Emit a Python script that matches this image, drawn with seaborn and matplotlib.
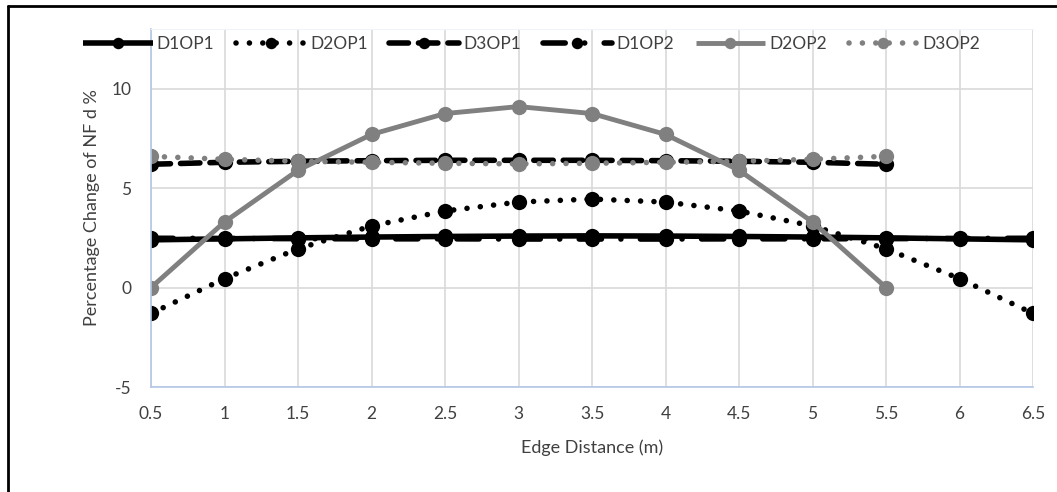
import numpy as np
import pandas as pd
import matplotlib.pyplot as plt
import seaborn as sns
from matplotlib.lines import Line2D

x_long = [0.5, 1, 1.5, 2, 2.5, 3, 3.5, 4, 4.5, 5, 5.5, 6, 6.5]
x_short = [0.5, 1, 1.5, 2, 2.5, 3, 3.5, 4, 4.5, 5, 5.5]
x_labels = ['0.5', '1', '1.5', '2', '2.5', '3', '3.5', '4', '4.5', '5', '5.5', '6', '6.5']

d1op1 = [2.40, 2.45, 2.50, 2.54, 2.57, 2.59, 2.60, 2.59, 2.57, 2.54, 2.50, 2.45, 2.40]
d2op1 = [-1.3, 0.45, 1.95, 3.1, 3.85, 4.3, 4.45, 4.3, 3.85, 3.1, 1.95, 0.45, -1.3]
d3op1 = [6.2, 6.3, 6.35, 6.38, 6.4, 6.4, 6.4, 6.38, 6.35, 6.3, 6.2]
d1op2 = [2.48, 2.47, 2.46, 2.45, 2.45, 2.44, 2.44, 2.44, 2.45, 2.45, 2.46, 2.47, 2.48]
d2op2 = [0.0, 3.3, 5.9, 7.7, 8.75, 9.1, 8.75, 7.7, 5.9, 3.3, 0.0]
d3op2 = [6.6, 6.45, 6.35, 6.3, 6.25, 6.22, 6.25, 6.3, 6.35, 6.45, 6.6]

series = [
    ('D1OP1', x_long, d1op1, 'black', '-', 4),
    ('D2OP1', x_long, d2op1, 'black', (0, (0.01, 2.4)), 4),
    ('D3OP1', x_short, d3op1, 'black', (0, (3.5, 1.8)), 4),
    ('D1OP2', x_long, d1op2, 'black', (0, (4, 3.5, 0.01, 3.5)), 4),
    ('D2OP2', x_short, d2op2, '#808080', '-', 3.5),
    ('D3OP2', x_short, d3op2, '#808080', (0, (0.01, 2.4)), 4),
]

sns.set_style('white')
plt.rcParams['font.family'] = ['Lato', 'DejaVu Sans']
plt.rcParams['axes.unicode_minus'] = False

fig = plt.figure(figsize=(10.57, 4.92), dpi=100)
ax = fig.add_axes([0.1429, 0.2134, 0.9773 - 0.1429, 0.941 - 0.2134])

for name, xs, ys, col, ls, lw in series:
    df = pd.DataFrame({'x': xs, 'y': ys})
    sns.lineplot(data=df, x='x', y='y', ax=ax, color=col, linestyle=ls,
                 linewidth=lw, marker='o', markersize=11, markeredgewidth=0,
                 label=name, dash_capstyle='round', solid_capstyle='butt')

ax.set_xlim(0.5, 6.5)
ax.set_ylim(-5, 13)
ax.set_xticks(x_long)
ax.set_xticklabels(x_labels)
ax.set_yticks([-5, 0, 5, 10])
ax.grid(True, color='#d9d9d9', linewidth=1.2)
ax.set_axisbelow(True)
ax.spines['right'].set_visible(False)
ax.spines['top'].set_color('#f0f3f8')
for s in ['left', 'bottom']:
    ax.spines[s].set_color('#b4c7e7')
    ax.spines[s].set_linewidth(1.2)
ax.tick_params(axis='both', length=0, labelsize=12.5, colors='#404040', pad=14)
ax.set_xlabel('Edge Distance (m)', fontsize=13, color='#404040', labelpad=12)
ax.set_ylabel('Percentage Change of NF d %', fontsize=13, color='#404040', labelpad=8)

ax.legend_.remove()
handles, labels = ax.get_legend_handles_labels()
fig.legend(handles, labels, loc='center', bbox_to_anchor=(0.503, 0.91), ncol=6,
           frameon=False, fontsize=12.5, handlelength=4.0, columnspacing=1.25,
           handletextpad=0.25, markerscale=0.75, labelcolor='#404040')

fig.add_artist(Line2D([8 / 1057, 8 / 1057], [0, 1 - 6 / 492], color='black', linewidth=2))
fig.add_artist(Line2D([8 / 1057, 1], [1 - 6 / 492, 1 - 6 / 492], color='black', linewidth=2))

fig.savefig('out.png', dpi=100)
